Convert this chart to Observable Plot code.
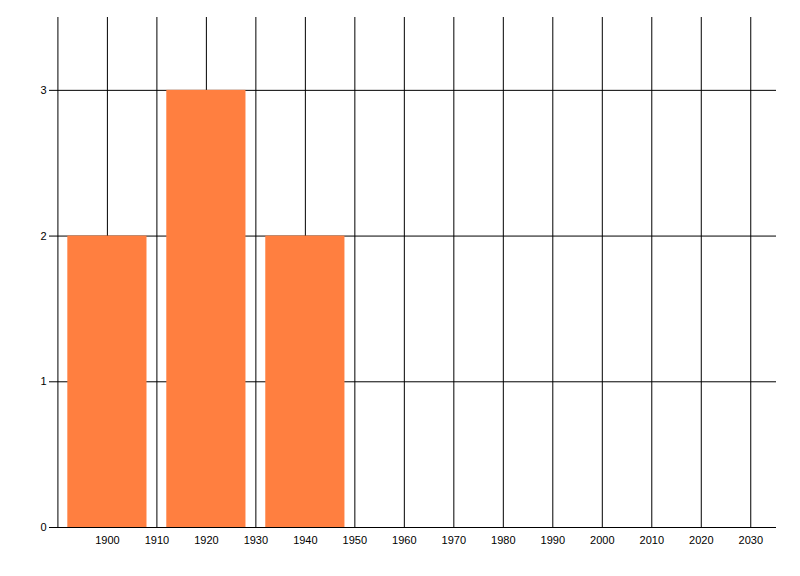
<!DOCTYPE html>
<html>
<head>
<meta charset="utf-8">
<script src="https://cdn.jsdelivr.net/npm/d3@7"></script>
<script src="https://cdn.jsdelivr.net/npm/@observablehq/plot@0.6"></script>
<style>
  html, body { margin: 0; padding: 0; background: #fff; }
  #chart svg { display: block; }
</style>
</head>
<body>
<div id="chart"></div>
<script>
const years = [1900, 1920, 1940];
const counts = [2, 3, 2];
const xGridYears = [1890, 1900, 1910, 1920, 1930, 1940, 1950, 1960, 1970, 1980, 1990, 2000, 2010, 2020, 2030];
const xTickLabels = [1900, 1910, 1920, 1930, 1940, 1950, 1960, 1970, 1980, 1990, 2000, 2010, 2020, 2030];
const yTicks = [0, 1, 2, 3];

const halfWidth = 8; // bar half-width in years
const data = years.map((y, i) => ({year: y, count: counts[i]}));

const chart = Plot.plot({
  width: 800,
  height: 576,
  marginLeft: 49,
  marginRight: 24,
  marginTop: 17,
  marginBottom: 49,
  style: {fontFamily: "'Liberation Sans', Arial, sans-serif", fontSize: "11px", color: "#000", background: "#fff"},
  x: {domain: [1888.3, 2035.2], axis: null},
  y: {domain: [0, 3.5], axis: null},
  marks: [
    Plot.ruleY(yTicks, {stroke: "#000", strokeWidth: 1}),
    Plot.ruleX(xGridYears, {y1: 0, y2: 3.5, stroke: "#000", strokeWidth: 1}),
    Plot.rectY(data, {x1: d => d.year - halfWidth, x2: d => d.year + halfWidth, y: "count", fill: "#ff7f40"}),
    Plot.axisX(xTickLabels, {tickSize: 0, tickPadding: 9, tickFormat: d => String(d), fontSize: 11, fill: "#000", label: null}),
    Plot.axisY(yTicks, {tickSize: 0, tickPadding: 3, tickFormat: d => String(d), fontSize: 11, fill: "#000", label: null})
  ]
});
document.getElementById("chart").appendChild(chart);
</script>
</body>
</html>
